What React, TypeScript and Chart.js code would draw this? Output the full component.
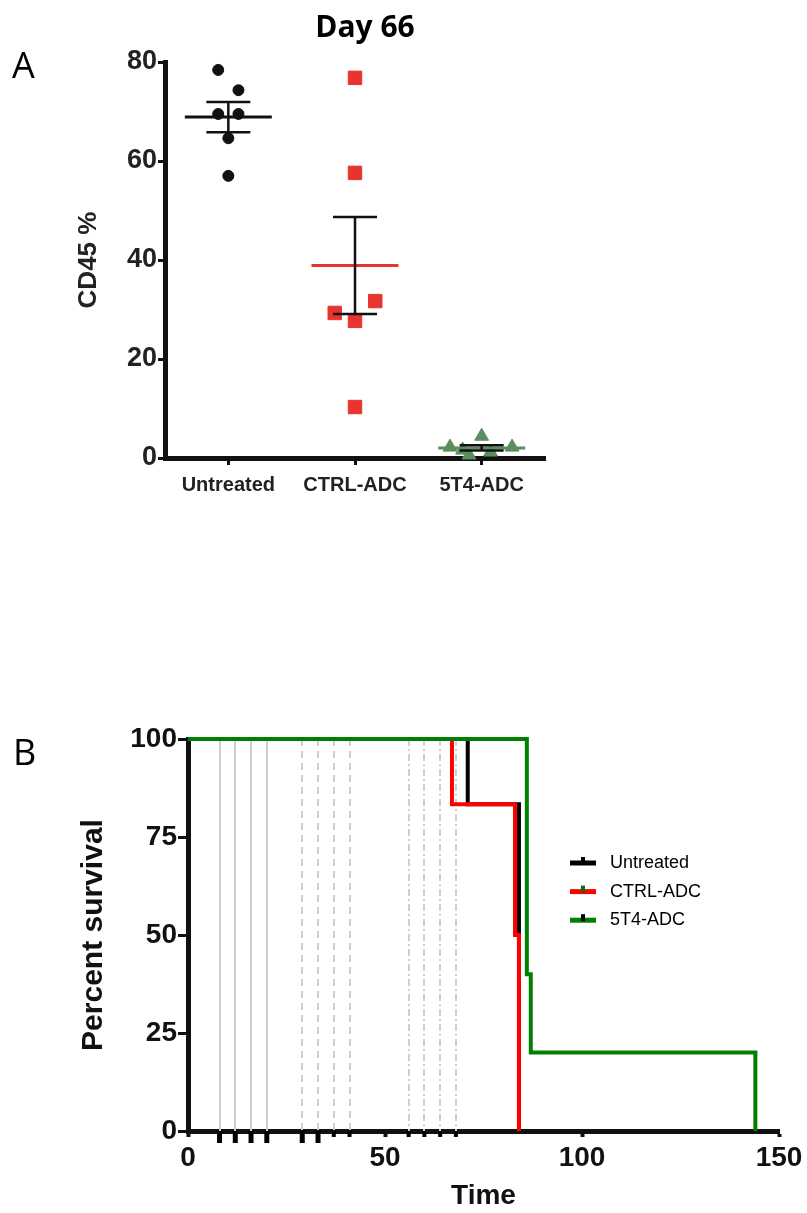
import React, { useEffect, useRef } from 'react';
import { Chart, registerables } from 'chart.js';

Chart.register(...registerables);

// ---------- Panel A data ----------
const groups = ['Untreated', 'CTRL-ADC', '5T4-ADC'];
const untreatedValues = [78.4, 74.3, 69.5, 69.5, 64.6, 57.0];
const ctrlValues = [76.8, 57.6, 29.3, 31.7, 27.7, 10.3];
const t4Values = [2.2, 1.6, 4.4, 0.6, 1.2, 2.2];
const untreatedJitter = [-0.08, 0.08, -0.08, 0.08, 0, 0];
const ctrlJitter = [0, 0, -0.16, 0.16, 0, 0];
const t4Jitter = [-0.25, -0.15, 0, -0.1, 0.07, 0.24];
const cd45Ticks = [0, 20, 40, 60, 80];

// ---------- Panel B data ----------
const survivalNames = ['Untreated', 'CTRL-ADC', '5T4-ADC'];
const untreatedTimes = [0, 71, 84];
const untreatedSurvival = [100, 83.33, 0];
const ctrlTimes = [0, 67, 83, 84];
const ctrlSurvival = [100, 83.33, 50, 0];
const t4Times = [0, 86, 87, 144];
const t4Survival = [100, 40, 20, 0];
const doseDaysSolid = [8, 12, 16, 20];
const doseDaysDashed = [29, 33, 37, 41];
const doseDaysDashDot = [56, 60, 64, 68];
const longTickDays = [8, 12, 16, 20, 29, 33];
const shortTickDays = [37, 41, 56, 60, 64, 68];
const survivalTicks = [0, 25, 50, 75, 100];
const timeTicks = [0, 50, 100, 150];

const FONT = '"Liberation Sans", Arial, Helvetica, sans-serif';
const LETTER_FONT = '"Open Sans", "Noto Sans", sans-serif';
const INK = '#111111';

const mean = (a: number[]) => a.reduce((s, v) => s + v, 0) / a.length;
const sem = (a: number[]) => {
  const m = mean(a);
  const v = a.reduce((s, x) => s + (x - m) * (x - m), 0) / (a.length - 1);
  return Math.sqrt(v) / Math.sqrt(a.length);
};

const groupValues = [untreatedValues, ctrlValues, t4Values];
const groupJitter = [untreatedJitter, ctrlJitter, t4Jitter];
const markerColors = ['#111111', '#e8332f', '#5d8c60'];
const meanColors = ['#111111', '#e8332f', '#5d8c60'];
const markerStyles = ['circle', 'rect', 'triangle'];
const markerRadius = [5.5, 9.5, 8];

const errorBarPlugin = {
  id: 'errorBars',
  afterDatasetsDraw(chart: any) {
    const { ctx } = chart;
    const xs = chart.scales.x;
    const ys = chart.scales.y;
    groupValues.forEach((vals, i) => {
      const m = mean(vals);
      const s = sem(vals);
      const cx = xs.getPixelForValue(i);
      const my = ys.getPixelForValue(m);
      const hi = ys.getPixelForValue(m + s);
      const lo = ys.getPixelForValue(m - s);
      ctx.save();
      ctx.lineCap = 'butt';
      ctx.strokeStyle = meanColors[i];
      ctx.lineWidth = 3;
      ctx.beginPath();
      ctx.moveTo(cx - 43.5, my);
      ctx.lineTo(cx + 43.5, my);
      ctx.stroke();
      ctx.strokeStyle = INK;
      ctx.lineWidth = 2.5;
      ctx.beginPath();
      ctx.moveTo(cx, hi);
      ctx.lineTo(cx, lo);
      ctx.moveTo(cx - 22, hi);
      ctx.lineTo(cx + 22, hi);
      ctx.moveTo(cx - 22, lo);
      ctx.lineTo(cx + 22, lo);
      ctx.stroke();
      ctx.restore();
    });
  },
};

const panelAText = {
  id: 'panelAText',
  afterDraw(chart: any) {
    const { ctx } = chart;
    ctx.save();
    ctx.fillStyle = '#000';
    ctx.textBaseline = 'alphabetic';
    ctx.textAlign = 'left';
    ctx.font = `36px ${LETTER_FONT}`;
    ctx.fillText('A', 12, 78);
    ctx.textAlign = 'center';
    ctx.font = `bold 30px ${LETTER_FONT}`;
    ctx.fillText('Day 66', 365, 37);
    ctx.restore();
  },
};

const doseLinesPlugin = {
  id: 'doseLines',
  beforeDatasetsDraw(chart: any) {
    const { ctx, chartArea } = chart;
    const xs = chart.scales.x;
    const sets: [number[], number[]][] = [
      [doseDaysSolid, []],
      [doseDaysDashed, [7, 5]],
      [doseDaysDashDot, [7, 3, 2, 3]],
    ];
    ctx.save();
    ctx.strokeStyle = '#cfcfcf';
    ctx.lineWidth = 2;
    sets.forEach(([days, dash]) => {
      ctx.setLineDash(dash);
      days.forEach((d) => {
        const px = Math.round(xs.getPixelForValue(d));
        ctx.beginPath();
        ctx.moveTo(px, chartArea.top);
        ctx.lineTo(px, chartArea.bottom);
        ctx.stroke();
      });
    });
    ctx.restore();
  },
};

const legendTickColors = ['#000000', '#0b6e0b', '#000000'];

const panelBOverlay = {
  id: 'panelBOverlay',
  afterDraw(chart: any) {
    const { ctx, chartArea } = chart;
    const xs = chart.scales.x;
    ctx.save();
    // event ticks under the time axis
    ctx.fillStyle = '#000';
    longTickDays.forEach((d) => {
      const px = xs.getPixelForValue(d);
      ctx.fillRect(px - 2.5, chartArea.bottom, 5, 12);
    });
    shortTickDays.forEach((d) => {
      const px = xs.getPixelForValue(d);
      ctx.fillRect(px - 2, chartArea.bottom, 4, 6);
    });
    // legend
    const datasets = chart.data.datasets;
    datasets.forEach((ds: any, i: number) => {
      const y = 183 + i * 28.6;
      ctx.fillStyle = ds.borderColor;
      ctx.fillRect(570, y - 2.5, 26, 5);
      ctx.fillStyle = legendTickColors[i];
      ctx.fillRect(581, y - 6, 4, 7);
      ctx.fillStyle = '#000';
      ctx.font = `18px ${FONT}`;
      ctx.textAlign = 'left';
      ctx.textBaseline = 'middle';
      ctx.fillText(ds.label, 610, y);
    });
    // panel letter
    ctx.textBaseline = 'alphabetic';
    ctx.font = `36px ${LETTER_FONT}`;
    ctx.fillText('B', 13, 85);
    ctx.restore();
  },
};

function PanelA() {
  const ref = useRef<HTMLCanvasElement>(null);
  useEffect(() => {
    if (!ref.current) return;
    const chart = new Chart(ref.current, {
      type: 'scatter',
      data: {
        datasets: groupValues.map((vals, i) => ({
          label: groups[i],
          data: vals.map((v, j) => ({ x: i + groupJitter[i][j], y: v })),
          pointStyle: markerStyles[i] as any,
          pointRadius: markerRadius[i],
          pointBackgroundColor: markerColors[i],
          pointBorderColor: markerColors[i],
          pointBorderWidth: 1,
          clip: false,
        })),
      },
      options: {
        responsive: false,
        animation: false,
        devicePixelRatio: 1,
        layout: { padding: { top: 62, right: 15, left: 0, bottom: 0 } },
        plugins: { legend: { display: false }, tooltip: { enabled: false } },
        scales: {
          x: {
            type: 'linear',
            min: -0.5,
            max: 2.5,
            afterBuildTicks: (s: any) => {
              s.ticks = groups.map((_, i) => ({ value: i }));
            },
            afterFit: (s: any) => {
              s.height = 42;
            },
            grid: { drawOnChartArea: false, drawTicks: true, tickLength: 7, tickWidth: 3, tickColor: INK },
            border: { display: true, color: INK, width: 5 },
            ticks: {
              callback: (v: any) => groups[v] ?? '',
              font: { family: FONT, size: 20, weight: 'bold' },
              color: '#222',
              padding: 8,
              maxRotation: 0,
              autoSkip: false,
            },
          },
          y: {
            min: 0,
            max: 80,
            afterBuildTicks: (s: any) => {
              s.ticks = cd45Ticks.map((v) => ({ value: v }));
            },
            afterFit: (s: any) => {
              s.width = 165;
            },
            grid: { drawOnChartArea: false, drawTicks: true, tickLength: 7, tickWidth: 3, tickColor: INK },
            border: { display: true, color: INK, width: 5 },
            ticks: { font: { family: FONT, size: 27, weight: 'bold' }, color: '#222', padding: 1 },
            title: {
              display: true,
              text: 'CD45 %',
              font: { family: FONT, size: 26, weight: 'bold' },
              color: '#222',
              padding: { top: 73, bottom: 0 },
            },
          },
        },
      } as any,
      plugins: [errorBarPlugin, panelAText],
    });
    return () => chart.destroy();
  }, []);
  return (
    <canvas
      ref={ref}
      width={560}
      height={500}
      style={{ position: 'absolute', left: 0, top: 0, width: 560, height: 500 }}
    />
  );
}

function PanelB() {
  const ref = useRef<HTMLCanvasElement>(null);
  useEffect(() => {
    if (!ref.current) return;
    const series = [
      { times: untreatedTimes, surv: untreatedSurvival, color: '#000000', order: 2 },
      { times: ctrlTimes, surv: ctrlSurvival, color: '#ff0000', order: 1 },
      { times: t4Times, surv: t4Survival, color: '#008000', order: 0 },
    ];
    const chart = new Chart(ref.current, {
      type: 'line',
      data: {
        datasets: series.map((s, i) => ({
          label: survivalNames[i],
          data: s.times.map((t, j) => ({ x: t, y: s.surv[j] })),
          borderColor: s.color,
          backgroundColor: s.color,
          borderWidth: 4,
          stepped: true,
          fill: false,
          tension: 0,
          pointRadius: 0,
          borderCapStyle: 'butt',
          borderJoinStyle: 'miter',
          clip: false,
          order: s.order,
        })),
      },
      options: {
        responsive: false,
        animation: false,
        devicePixelRatio: 1,
        layout: { padding: { top: 59, right: 28, left: 0, bottom: 0 } },
        plugins: { legend: { display: false }, tooltip: { enabled: false } },
        scales: {
          x: {
            type: 'linear',
            min: 0,
            max: 150,
            afterBuildTicks: (s: any) => {
              s.ticks = timeTicks.map((v) => ({ value: v }));
            },
            afterFit: (s: any) => {
              s.height = 82;
            },
            grid: { drawOnChartArea: false, drawTicks: true, tickLength: 6, tickWidth: 4, tickColor: INK },
            border: { display: true, color: INK, width: 5 },
            ticks: {
              font: { family: FONT, size: 28, weight: 'bold' },
              color: '#111',
              padding: 4,
              maxRotation: 0,
              autoSkip: false,
            },
            title: {
              display: true,
              text: 'Time',
              font: { family: FONT, size: 28, weight: 'bold' },
              color: '#111',
              padding: { top: 0, bottom: 0 },
            },
          },
          y: {
            min: 0,
            max: 100,
            afterBuildTicks: (s: any) => {
              s.ticks = survivalTicks.map((v) => ({ value: v }));
            },
            afterFit: (s: any) => {
              s.width = 188;
            },
            grid: { drawOnChartArea: false, drawTicks: true, tickLength: 10, tickWidth: 3, tickColor: INK },
            border: { display: true, color: INK, width: 5 },
            ticks: { font: { family: FONT, size: 28, weight: 'bold' }, color: '#111', padding: 1 },
            title: {
              display: true,
              text: 'Percent survival',
              font: { family: FONT, size: 30, weight: 'bold' },
              color: '#111',
              padding: { top: 76, bottom: 0 },
            },
          },
        },
      } as any,
      plugins: [doseLinesPlugin, panelBOverlay],
    });
    return () => chart.destroy();
  }, []);
  return (
    <canvas
      ref={ref}
      width={807}
      height={533}
      style={{ position: 'absolute', left: 0, top: 680, width: 807, height: 533 }}
    />
  );
}

export default function App() {
  return (
    <div
      style={{
        position: 'absolute',
        left: 0,
        top: 0,
        width: 807,
        height: 1213,
        background: '#ffffff',
        overflow: 'hidden',
      }}
    >
      <PanelA />
      <PanelB />
    </div>
  );
}
